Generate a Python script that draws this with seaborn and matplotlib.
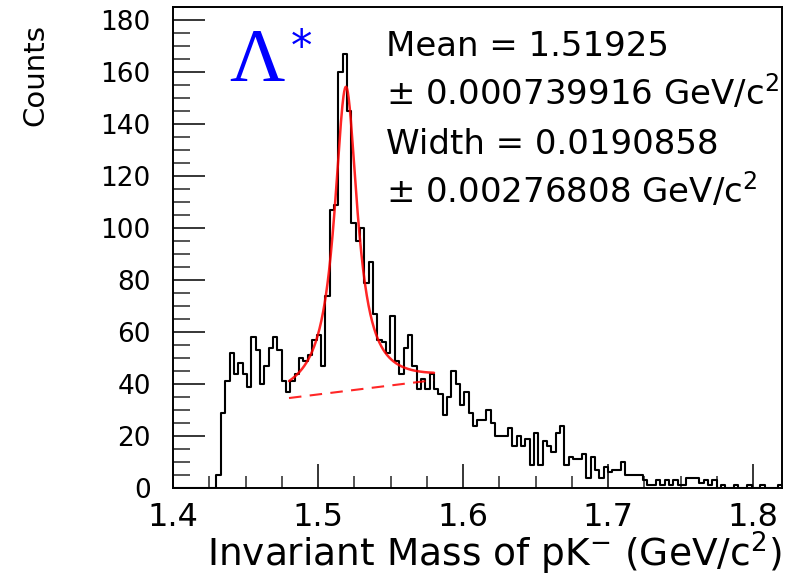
import numpy as np
import pandas as pd
import matplotlib
matplotlib.use("Agg")
import matplotlib.pyplot as plt
import seaborn as sns
from matplotlib.ticker import MultipleLocator

# ---------------- data ----------------
hist_low = 1.40
hist_high = 1.82
bin_width = 0.003
counts = [
    0, 0, 0, 0, 0, 0, 0, 0, 0, 0,
    5, 29, 41, 52, 44, 48, 44, 39, 58, 53,
    40, 47, 54, 58, 53, 41, 37, 41, 44, 50,
    49, 51, 57, 59, 47, 74, 107, 109, 160, 167,
    145, 102, 95, 100, 79, 87, 67, 57, 56, 52,
    66, 49, 44, 54, 59, 47, 38, 42, 38, 44,
    38, 36, 28, 35, 45, 40, 32, 37, 29, 24,
    26, 26, 30, 25, 20, 20, 20, 23, 16, 20,
    16, 19, 9, 21, 9, 18, 16, 14, 21, 24,
    9, 12, 11, 11, 13, 4, 12, 7, 4, 8,
    6, 7, 7, 10, 5, 5, 5, 5, 3, 1,
    1, 3, 1, 3, 1, 3, 1, 1, 4, 4,
    4, 2, 3, 1, 3, 0, 1, 0, 0, 1,
    0, 0, 1, 0, 0, 1, 0, 0, 0, 1,
]

fit_range = [1.48, 1.58]
fit_mean = 1.51925
fit_width = 0.0190858
fit_peak = 117.0
bg_values = [34.6, 41.5]   # linear background at the ends of the fit range

stat_lines = [
    "Mean = 1.51925",
    r"$\pm$ 0.000739916 GeV/c$^{2}$",
    "Width = 0.0190858",
    r"$\pm$ 0.00276808 GeV/c$^{2}$",
]
xlabel = r"Invariant Mass of pK$^{-}$ (GeV/c$^{2}$)"
ylabel = "Counts"

# ---------------- style ----------------
sns.set_theme(style="ticks")
plt.rcParams["font.family"] = ["DejaVu Sans"]
plt.rcParams["mathtext.fontset"] = "dejavusans"
plt.rcParams["text.color"] = "black"
plt.rcParams["axes.labelcolor"] = "black"

W, H = 804, 577
fig = plt.figure(figsize=(W / 100, H / 100), dpi=100)
fig.patch.set_facecolor("white")
L, R, T, B = 173, 782, 7, 488
ax = fig.add_axes([L / W, 1 - B / H, (R - L) / W, (B - T) / H])
ax.set_facecolor("white")

nbins = len(counts)
centers = hist_low + bin_width * (np.arange(nbins) + 0.5)
df = pd.DataFrame({"mass": centers, "counts": counts})
sns.histplot(data=df, x="mass", weights="counts", binwidth=bin_width,
             binrange=(hist_low, hist_low + bin_width * nbins), element="step",
             fill=False, color="black", linewidth=1.5, ax=ax)

# fit: Breit-Wigner + linear background
xf = np.linspace(fit_range[0], fit_range[1], 400)
bg = np.interp(xf, fit_range, bg_values)
hw = fit_width / 2
bw = fit_peak * hw**2 / ((xf - fit_mean) ** 2 + hw**2)
fit_df = pd.DataFrame({"x": xf, "total": bw + bg, "bg": bg})
sns.lineplot(data=fit_df, x="x", y="total", color="red", linewidth=1.8,
             alpha=0.85, ax=ax, estimator=None, sort=False)
sns.lineplot(data=fit_df, x="x", y="bg", color="red", linewidth=1.5,
             alpha=0.85, ax=ax, estimator=None, sort=False,
             linestyle=(0, (6, 4)))

ax.set_xlim(hist_low, hist_high)
ax.set_ylim(0, 185)
ax.xaxis.set_major_locator(MultipleLocator(0.1))
ax.xaxis.set_minor_locator(MultipleLocator(0.025))
ax.yaxis.set_major_locator(MultipleLocator(20))
ax.yaxis.set_minor_locator(MultipleLocator(5))
ax.set_xticks([1.4, 1.5, 1.6, 1.7, 1.8])
ax.set_xticklabels(["1.4", "1.5", "1.6", "1.7", "1.8"])

ax.tick_params(axis="x", which="major", direction="in", length=17, width=1.1,
               labelsize=23, pad=10, colors="black")
ax.tick_params(axis="x", which="minor", direction="in", length=8.5, width=1.1)
ax.tick_params(axis="y", which="major", direction="in", length=23, width=1.1,
               labelsize=19, pad=16, colors="black")
ax.tick_params(axis="y", which="minor", direction="in", length=12.5, width=1.1)
for s in ax.spines.values():
    s.set_visible(True)
    s.set_linewidth(1.4)
    s.set_color("black")

ax.set_xlabel(xlabel, fontsize=27, ha="right", va="top", color="black")
ax.xaxis.set_label_coords(1.0, -(530 - B) / (B - T))
ax.set_ylabel(ylabel, fontsize=21, ha="right", va="bottom", color="black")
ax.yaxis.set_label_coords((49 - L) / (R - L), (B - 24) / (B - T))

# Lambda* label
fig.text(229 / W, 1 - 81 / H, "Λ", fontfamily="Liberation Serif", fontsize=55,
         color="blue", ha="left", va="baseline")
fig.text(291 / W, 1 - 60 / H, "*", fontsize=31, color="blue", ha="left",
         va="baseline")

baselines = [56, 105, 154, 203]
for txt, yb in zip(stat_lines, baselines):
    fig.text(386 / W, 1 - yb / H, txt, fontsize=24.5, color="black",
             ha="left", va="baseline")

fig.savefig("out.png", dpi=100, facecolor="white")
